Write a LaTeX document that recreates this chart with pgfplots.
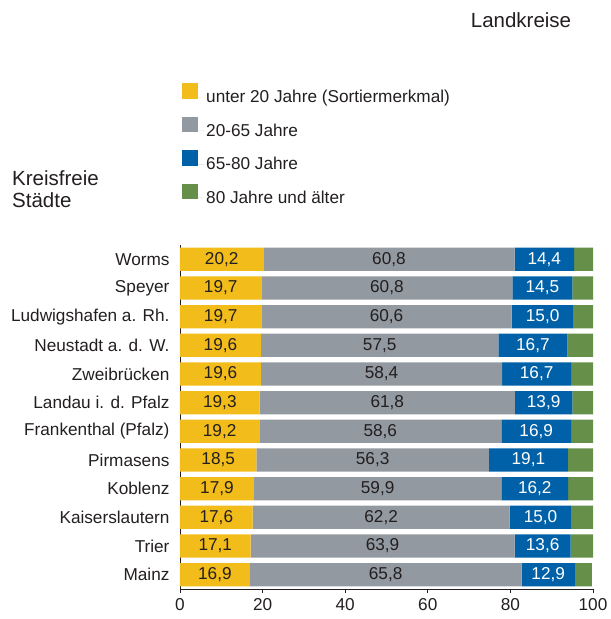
\documentclass[border=0pt]{standalone}
\usepackage{pgfplots}
\pgfplotsset{compat=1.18}
\usepackage{pgfplotstable}
\usepackage{fontspec}
\setmainfont{Liberation Sans}
\definecolor{cYel}{HTML}{F2BC1A}
\definecolor{cGry}{HTML}{9299A0}
\definecolor{cBlu}{HTML}{0061A8}
\definecolor{cGrn}{HTML}{668F4A}
\definecolor{cTxt}{HTML}{231F20}
\pgfplotstableread{
idx u20 a2065 a6580 a80
0 20.2 60.8 14.4 4.6
1 19.7 60.8 14.5 5.0
2 19.7 60.6 15.0 4.7
3 19.6 57.5 16.7 6.2
4 19.6 58.4 16.7 5.3
5 19.3 61.8 13.9 5.0
6 19.2 58.6 16.9 5.3
7 18.5 56.3 19.1 6.1
8 17.9 59.9 16.2 6.0
9 17.6 62.2 15.0 5.2
10 17.1 63.9 13.6 5.4
11 16.9 65.8 12.9 4.1
}\data
\begin{document}
\begin{tikzpicture}[font=\fontsize{17.2bp}{19bp}\selectfont, text=cTxt]
\path (-180bp,-30bp) rectangle (428bp,589bp);
\begin{axis}[
  at={(0,0)}, anchor=south west,
  width=413bp, height=344bp, scale only axis,
  xbar stacked, bar width=23.3bp,
  xmin=0, xmax=100, ymin=-0.5, ymax=11.5, y dir=reverse,
  axis x line*=bottom, axis y line*=left,
  axis line style={-, draw=cTxt, line width=0.8pt},
  xtick={0,20,...,100},
  ytick={0,...,11},
  yticklabels={Worms,Speyer,Ludwigshafen a. Rh.,Neustadt a. d. W.,Zweibr\"ucken,Landau i. d. Pfalz,Frankenthal (Pfalz),Pirmasens,Koblenz,Kaiserslautern,Trier,Mainz},
  minor ytick={-0.5,0.5,...,11.5},
  tick align=outside,
  major tick length=4bp, minor tick length=5bp,
  tick style={draw=cTxt, line width=0.8pt},
  ytick style={draw=none},
  minor tick style={draw=cTxt, line width=0.8pt},
  x tick label style={yshift=-2bp},
  y tick label style={xshift=-3bp},
  /pgf/number format/assume math mode=true,
  clip=false,
  point meta=explicit,
  nodes near coords,
  nodes near coords={\pgfmathprintnumber[use comma,fixed,fixed zerofill,precision=1]{\pgfplotspointmeta}},
  every node near coord/.append style={font=\fontsize{17.2bp}{19bp}\selectfont, text=cTxt},
  legend style={at={(axis description cs:0.00484,1.4709)}, anchor=north west, draw=none, fill=none, inner sep=0pt,
    row sep=10.5bp, font=\fontsize{17.2bp}{19bp}\selectfont},
  legend cell align=left,
  legend image code/.code={\fill[#1] (0bp,-1.5bp) rectangle (15.5bp,14bp); \path (15.5bp,0bp) -- (22bp,0bp);},
]
\addplot[fill=cYel, draw=none] table[x=u20, y=idx, meta=u20]{\data};
\addplot[fill=cGry, draw=none] table[x=a2065, y=idx, meta=a2065]{\data};
\addplot[fill=cBlu, draw=none, every node near coord/.append style={text=white}] table[x=a6580, y=idx, meta=a6580]{\data};
\addplot[fill=cGrn, draw=none, nodes near coords={}] table[x=a80, y=idx, meta=a80]{\data};
\legend{unter 20 Jahre (Sortiermerkmal),20-65 Jahre,65-80 Jahre,80 Jahre und \"alter}
\end{axis}
\node[font=\fontsize{20.5bp}{22bp}\selectfont, inner sep=0pt] at (341bp,569bp) {Landkreise};
\node[font=\fontsize{20.5bp}{22bp}\selectfont, inner sep=0pt, align=left, anchor=west] at (-168bp,400bp) {Kreisfreie\\St\"adte};
\end{tikzpicture}
\end{document}
